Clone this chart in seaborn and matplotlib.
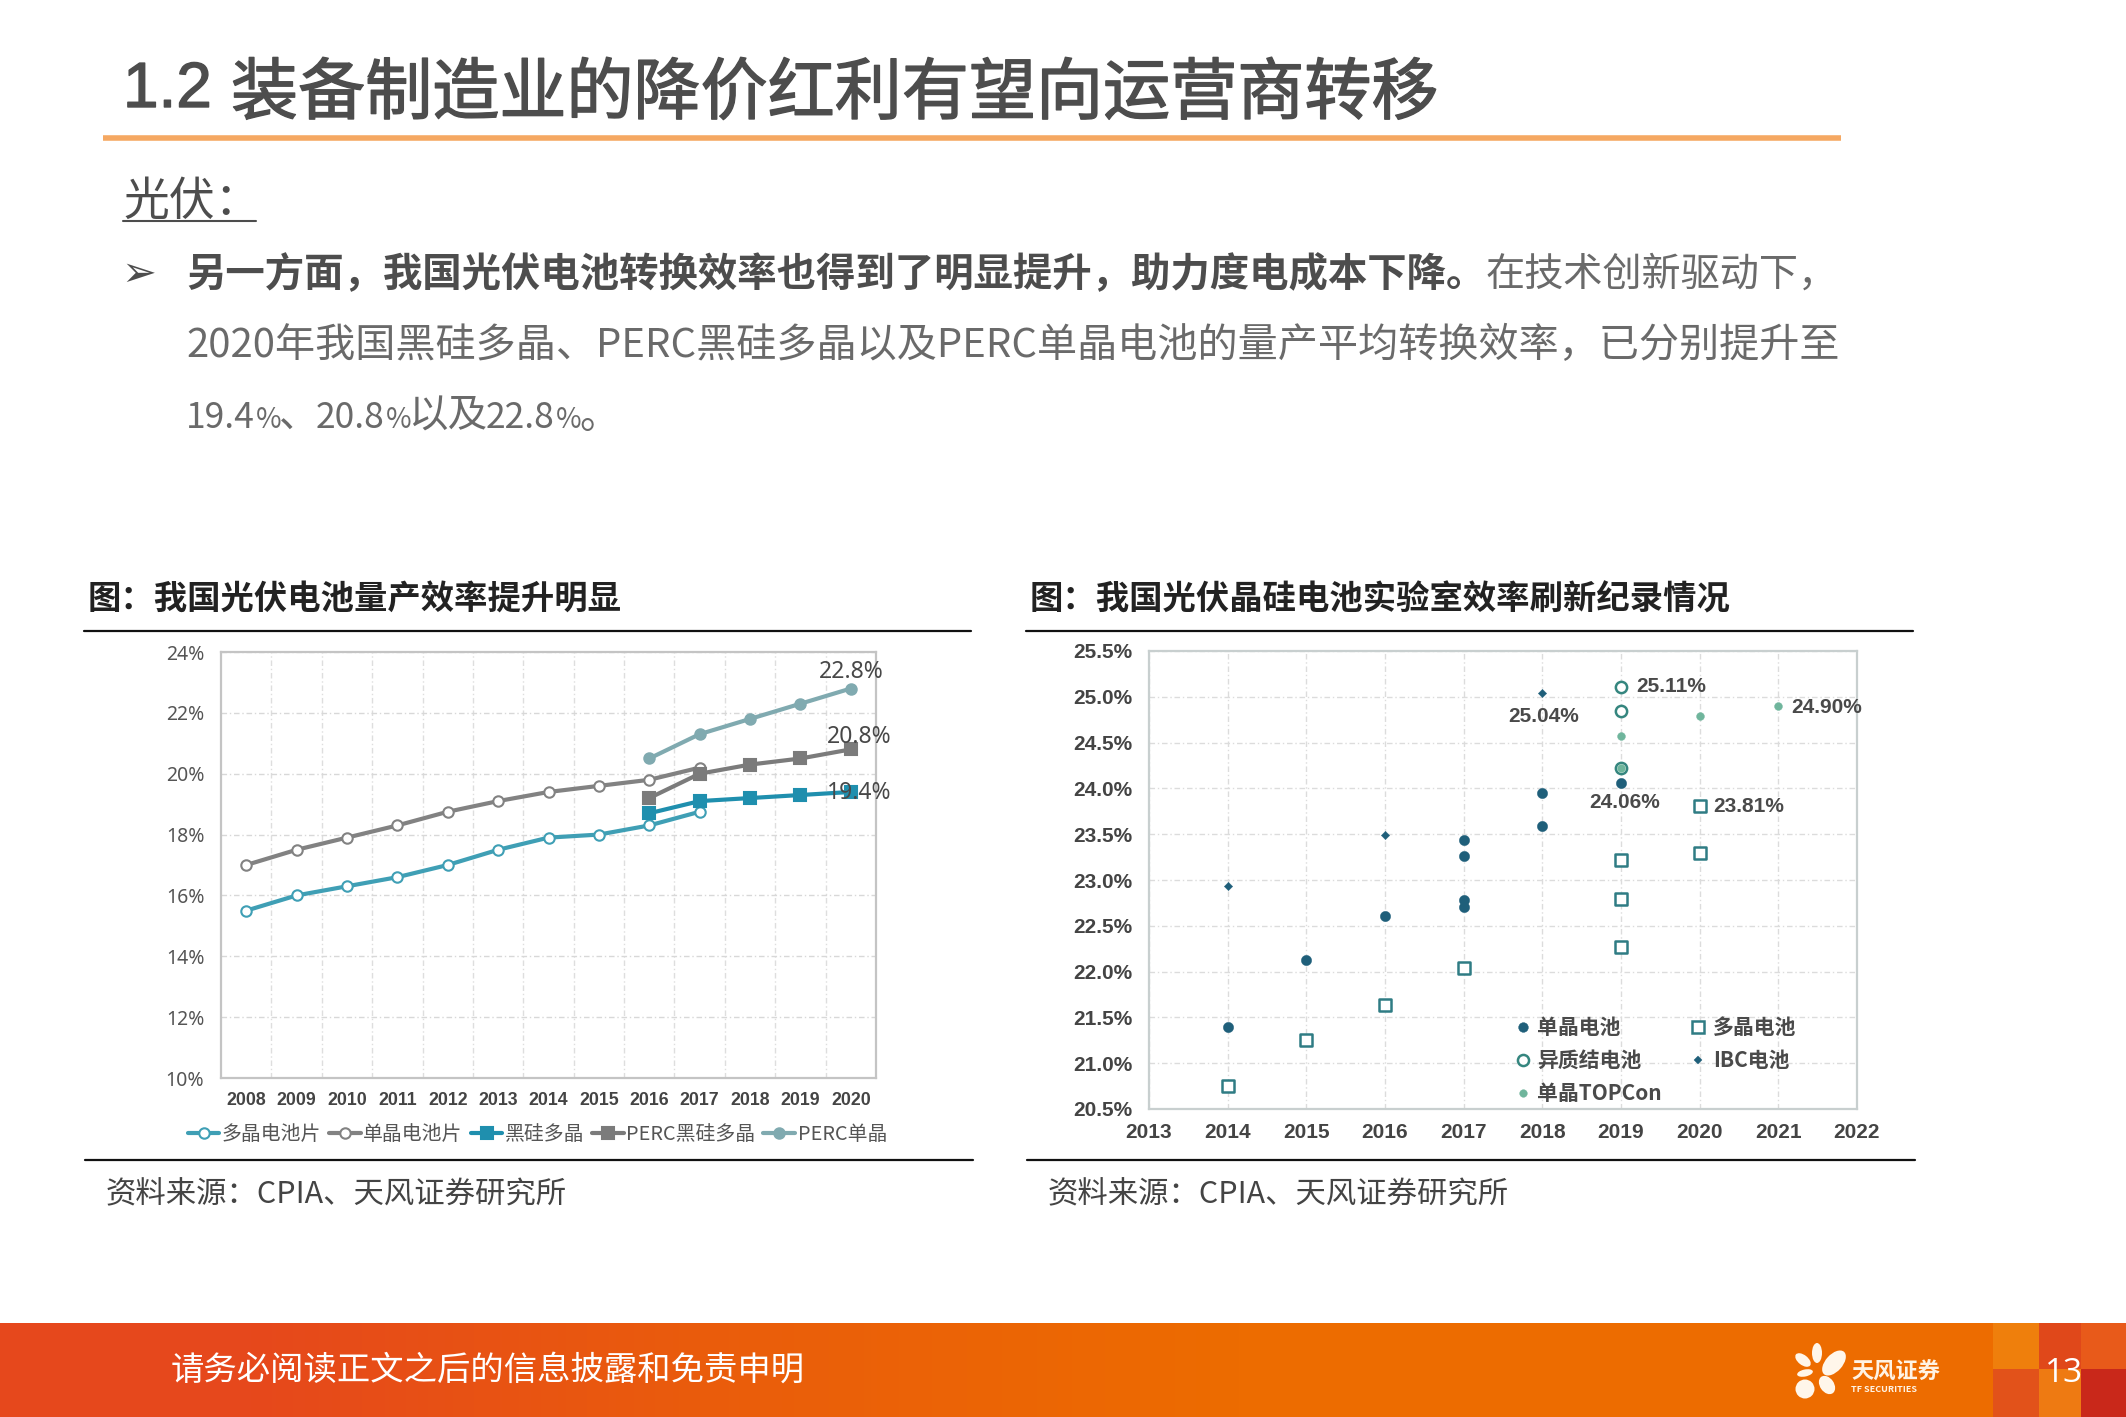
import numpy as np
import pandas as pd
import matplotlib
matplotlib.use('Agg')
import matplotlib.pyplot as plt
import matplotlib.patheffects as pe
import seaborn as sb
from matplotlib.lines import Line2D
from matplotlib.patches import Ellipse, Rectangle

W, H = 2126, 1417
CJK = ['Noto Sans CJK SC', 'DejaVu Sans']
GREY = '#4d4d4d'
BODY = '#6a6a6a'
TICK_FONT = ['Liberation Sans']

# left chart
years = list(range(2008, 2021))
multi_cell = [15.5, 16.0, 16.3, 16.6, 17.0, 17.5, 17.9, 18.0, 18.3, 18.75]
mono_cell = [17.0, 17.5, 17.9, 18.3, 18.75, 19.1, 19.4, 19.6, 19.8, 20.2]
black_si = [18.7, 19.1, 19.2, 19.3, 19.4]
perc_black = [19.2, 20.0, 20.3, 20.5, 20.8]
perc_mono = [20.5, 21.3, 21.8, 22.3, 22.8]
left_yticks = [10, 12, 14, 16, 18, 20, 22, 24]

# right chart
mono_x = [2014, 2015, 2016, 2017, 2017, 2017, 2017, 2018, 2018, 2019]
mono_y = [21.40, 22.13, 22.61, 22.71, 22.78, 23.26, 23.44, 23.59, 23.95, 24.06]
poly_x = [2014, 2015, 2016, 2017, 2019, 2019, 2019, 2020, 2020]
poly_y = [20.75, 21.25, 21.63, 22.04, 22.27, 22.79, 23.22, 23.29, 23.81]
hjt_x = [2019, 2019, 2019]
hjt_y = [24.22, 24.85, 25.11]
ibc_x = [2014, 2016, 2018]
ibc_y = [22.93, 23.49, 25.04]
topcon_x = [2019, 2019, 2020, 2021]
topcon_y = [24.22, 24.57, 24.79, 24.90]
right_xticks = list(range(2013, 2023))
right_yticks = [20.5, 21.0, 21.5, 22.0, 22.5, 23.0, 23.5, 24.0, 24.5, 25.0, 25.5]


def px_axes(fig, x0, y0, x1, y1):
    return fig.add_axes([x0 / W, 1 - y1 / H, (x1 - x0) / W, (y1 - y0) / H])


def txt(ax, x, y, s, size, color=GREY, weight='normal', family=CJK, **kw):
    kw.setdefault('va', 'center')
    return ax.text(x, y, s, fontsize=size, color=color, fontweight=weight, family=family, **kw)


def style_frame(ax, color):
    for sp in ax.spines.values():
        sp.set_color(color)
        sp.set_linewidth(1.6)


def draw_slide(bg):
    bg.set_xlim(0, W)
    bg.set_ylim(H, 0)
    bg.axis('off')

    heavy = [pe.withStroke(linewidth=1.0, foreground=GREY)]
    txt(bg, 123, 90, '1.2', 46, family=['Liberation Sans'], path_effects=heavy)
    txt(bg, 231, 95, '装备制造业的降价红利有望向运营商转移', 48.3, path_effects=heavy)
    bg.plot([103, 1841], [138, 138], color='#f5a862', lw=4, solid_capstyle='butt')
    txt(bg, 123, 202, '光伏：', 33)
    bg.plot([123, 256], [221, 221], color=GREY, lw=1.5)

    txt(bg, 121, 274, '➢', 30)
    txt(bg, 186, 275, '另一方面，我国光伏电池转换效率也得到了明显提升，助力度电成本下降。', 28.4, weight='bold')
    txt(bg, 1486, 275, '在技术创新驱动下，', 28.2, color=BODY)
    txt(bg, 186, 346, '2020年我国黑硅多晶、PERC黑硅多晶以及PERC单晶电池的量产平均转换效率，已分别提升至', 28.9, color=BODY)
    # third line has small percent signs
    for x, s, size in [(186, '19.4', 25.5), (256, '%', 20), (279, '、', 28.5), (316, '20.8', 25.5), (386, '%', 20),
                       (408, '以及', 28.5), (486, '22.8', 25.5), (556, '%', 20), (579, '。', 28.5)]:
        txt(bg, x, 428, s, size, color=BODY, va='baseline')

    for x0, x1, x2, title in [(88, 84, 971, '图：我国光伏电池量产效率提升明显'),
                              (1030, 1026, 1913, '图：我国光伏晶硅电池实验室效率刷新纪录情况')]:
        txt(bg, x0, 600, title, 24, color='#222222', weight='bold')
        bg.plot([x1, x2], [631, 631], color='#111111', lw=1.6)
        bg.plot([x1 + 1, x2 + 2], [1160, 1160], color='#111111', lw=1.6)
        txt(bg, x0 + 18, 1195, '资料来源：CPIA、天风证券研究所', 21.9, color='#444444')

    # footer band
    grad = np.array([[0.0, 0.55, 1.0, 1.0]])
    cmap = matplotlib.colors.LinearSegmentedColormap.from_list('band', ['#e6481c', '#ea5c0c', '#ed6c00'])
    bg.imshow(grad, extent=[0, 1993, H, 1323], cmap=cmap, aspect='auto', interpolation='bilinear', zorder=1)
    for x0, x1, y0, y1, c in [(1993, 2039, 1323, 1369, '#ef7f0c'), (1993, 2039, 1369, H, '#e2521a'),
                              (2039, 2081, 1323, 1369, '#e0481a'), (2039, 2081, 1369, H, '#ee7a12'),
                              (2081, 2126, 1323, 1369, '#e85a1a'), (2081, 2126, 1369, H, '#c9281a')]:
        bg.add_patch(Rectangle((x0, y0), x1 - x0, y1 - y0, color=c, lw=0, zorder=1))
    bg.set_xlim(0, W)
    bg.set_ylim(H, 0)

    # logo petals
    for cx, cy, w, h, ang in [(1817, 1353, 10, 20, 0), (1834, 1363, 17, 30, 42), (1803, 1360, 10, 18, -52),
                              (1805, 1373, 7, 16, 78), (1805, 1389, 19, 19, 0), (1827, 1385, 14, 20, -35)]:
        bg.add_patch(Ellipse((cx, cy), w, h, angle=ang, color='#fff6ea', lw=0, zorder=2))
    txt(bg, 1851, 1372, '天风证券', 16, color='#fff3e4', weight='bold', zorder=3)
    txt(bg, 1851, 1389, 'TF SECURITIES', 6.5, color='#fff3e4', weight='bold', zorder=3)

    txt(bg, 171, 1370, '请务必阅读正文之后的信息披露和免责申明', 24, color='white', zorder=3)
    txt(bg, 2064, 1373, '13', 24, color='white', ha='center', zorder=3, family=['Open Sans'])


def plot_left(ax):
    series = [('多晶电池片', years[:10], multi_cell, '#3f9fb5', 'o', 'white', 7.5),
              ('单晶电池片', years[:10], mono_cell, '#828282', 'o', 'white', 7.5),
              ('黑硅多晶', years[8:], black_si, '#1f8fae', 's', '#1f8fae', 8),
              ('PERC黑硅多晶', years[8:], perc_black, '#7b7b7b', 's', '#7b7b7b', 8.5),
              ('PERC单晶', years[8:], perc_mono, '#80aab0', 'o', '#80aab0', 7.5)]
    for name, xs, ys, c, m, mfc, ms in series:
        frame = pd.DataFrame({'year': xs, 'eff': ys})
        sb.lineplot(data=frame, x='year', y='eff', ax=ax, color=c, lw=3, marker=m, ms=ms,
                    mfc=mfc, mec=c, mew=1.5, label=name, errorbar=None, zorder=3)
    ax.set_xlim(2007.5, 2020.5)
    ax.set_ylim(10, 24)
    ax.set_xticks(years)
    ax.set_xticks(np.arange(2008.5, 2020.5, 1), minor=True)
    ax.set_yticks(left_yticks)
    ax.set_yticklabels(['%d%%' % v for v in left_yticks], fontsize=14, color='#555555', family=['Noto Sans'])
    ax.set_xticklabels([str(y) for y in years], fontsize=12.8, color='#444444', fontweight='bold', family=TICK_FONT)
    ax.tick_params(which='both', length=0)
    ax.tick_params(axis='x', pad=10)
    ax.tick_params(axis='y', pad=12)
    ax.grid(True, which='major', axis='y', color='#d8d8d8', ls=(0, (4, 2, 1, 2)), lw=1)
    ax.grid(True, which='minor', axis='x', color='#dedede', ls=(0, (4, 2, 1, 2)), lw=1)
    ax.grid(False, which='major', axis='x')
    ax.set_xlabel('')
    ax.set_ylabel('')
    style_frame(ax, '#c4c4c4')
    for lab_x, lab_y, lab in [(2020, 23.35, '22.8%'), (2020.17, 21.22, '20.8%'), (2020.17, 19.36, '19.4%')]:
        txt(ax, lab_x, lab_y, lab, 16.5, color='#484848', ha='center', family=['Noto Sans'], zorder=5)
    ax.legend(loc='center', bbox_to_anchor=(0.483, -0.133), ncol=5, frameon=False,
              labelcolor='#555555', prop={'family': CJK, 'size': 14.3}, handlelength=1.6, handletextpad=0.12,
              columnspacing=0.4, borderpad=0)


def plot_right(ax):
    series = [('单晶电池', mono_x, mono_y, '#1f5f7a', 'o', '#1f5f7a', 55),
              ('异质结电池', hjt_x, hjt_y, '#35867f', 'o', 'white', 66),
              ('单晶TOPCon', topcon_x, topcon_y, '#6fb59c', 'o', '#6fb59c', 32),
              ('多晶电池', poly_x, poly_y, '#2f7c84', 's', 'white', 66),
              ('IBC电池', ibc_x, ibc_y, '#1f5f7a', 'D', '#1f5f7a', 18)]
    for name, xs, ys, c, m, fc, s in series:
        frame = pd.DataFrame({'year': xs, 'eff': ys})
        hollow = fc == 'white'
        sb.scatterplot(data=frame, x='year', y='eff', ax=ax, marker=m, s=s, color=fc if hollow else c,
                       edgecolor=c, linewidth=1.8 if hollow else 0.3, zorder=4)
    ax.set_xlim(2013, 2022)
    ax.set_ylim(20.5, 25.5)
    ax.set_xticks(right_xticks)
    ax.set_yticks(right_yticks)
    ax.set_xticklabels([str(y) for y in right_xticks], fontsize=15, color='#444444', fontweight='bold', family=TICK_FONT)
    ax.set_yticklabels(['%.1f%%' % v for v in right_yticks], fontsize=15, color='#444444', fontweight='bold', family=TICK_FONT)
    ax.tick_params(length=0)
    ax.tick_params(axis='x', pad=10)
    ax.tick_params(axis='y', pad=12)
    ax.grid(True, axis='both', color='#dcdcdc', ls=(0, (4, 2, 1, 2)), lw=1)
    ax.set_xlabel('')
    ax.set_ylabel('')
    style_frame(ax, '#c8cfcf')
    for lab_x, lab_y, lab, ha in [(2019.19, 25.11, '25.11%', 'left'), (2018.02, 24.79, '25.04%', 'center'),
                                  (2019.04, 23.85, '24.06%', 'center'), (2020.17, 23.80, '23.81%', 'left'),
                                  (2021.16, 24.88, '24.90%', 'left')]:
        txt(ax, lab_x, lab_y, lab, 15, color='#4a4a4a', weight='bold', ha=ha, family=TICK_FONT, zorder=5)
    handles = [Line2D([], [], ls='', marker=m, ms=ms, mfc=fc, mec=c, mew=mw, label=name)
               for name, c, m, fc, ms, mw in [('单晶电池', '#1f5f7a', 'o', '#1f5f7a', 7, 0.3),
                                              ('异质结电池', '#35867f', 'o', 'white', 8, 1.8),
                                              ('单晶TOPCon', '#6fb59c', 'o', '#6fb59c', 5.5, 0.3),
                                              ('多晶电池', '#2f7c84', 's', 'white', 8, 1.8),
                                              ('IBC电池', '#1f5f7a', 'D', '#1f5f7a', 4, 0.3)]]
    ax.legend(handles=handles, loc='lower left', bbox_to_anchor=(0.5, -0.012), ncol=2, frameon=False,
              prop={'family': CJK, 'size': 15, 'weight': 'bold'}, labelcolor='#4a4a4a', handlelength=0.9,
              handletextpad=0.25, columnspacing=1.3, labelspacing=0.58, borderpad=0)


if __name__ == '__main__':
    sb.set_theme(style='white')
    plt.rcParams['font.family'] = CJK
    plt.rcParams['axes.unicode_minus'] = False

    fig = plt.figure(figsize=(W / 100, H / 100), dpi=100, facecolor='white')
    bg = fig.add_axes([0, 0, 1, 1])
    draw_slide(bg)

    plot_left(px_axes(fig, 221, 652, 876, 1078))
    plot_right(px_axes(fig, 1149, 651, 1857, 1109))

    fig.savefig('out.png', dpi=100, facecolor='white')
